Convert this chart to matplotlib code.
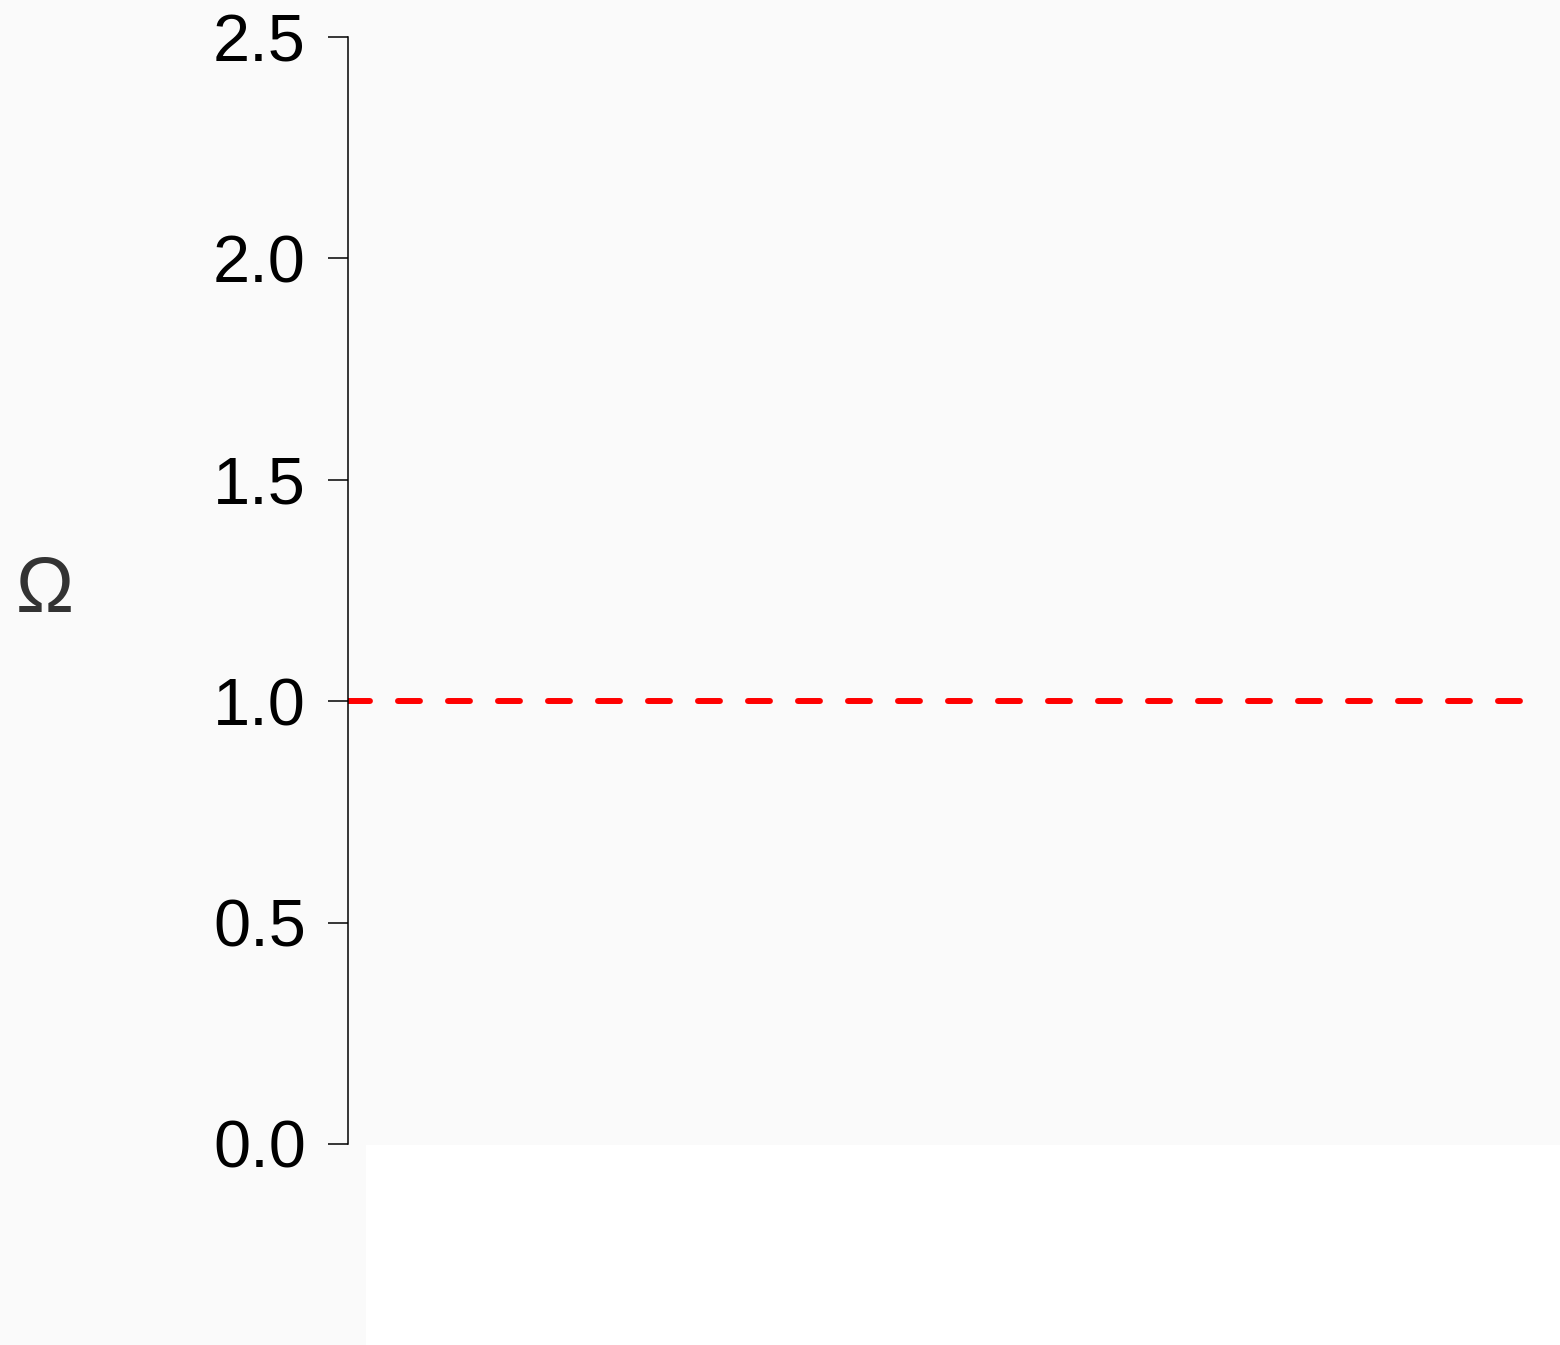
import matplotlib.pyplot as plt
from matplotlib.patches import Rectangle

plt.rcParams['font.family'] = ['Liberation Sans', 'DejaVu Sans']
plt.rcParams['lines.scale_dashes'] = False

# reference level and axis settings
ref_x = [0.0, 1.0]
ref_y = [1.0, 1.0]
y_ticks = [0.0, 0.5, 1.0, 1.5, 2.0, 2.5]
y_labels = ['0.0', '0.5', '1.0', '1.5', '2.0', '2.5']
y_title = 'Ω'

bg = '#fafafa'
fig = plt.figure(figsize=(15.6, 13.45), dpi=100, facecolor=bg)

# blank strip below the plot area
fig.patches.append(Rectangle((366 / 1560, 0), 1, 1 - 1145 / 1345,
                             transform=fig.transFigure, facecolor='white',
                             edgecolor='none', zorder=0))

ax = fig.add_axes([348 / 1560, 1 - 1144 / 1345, 1 - 348 / 1560, (1144 - 37) / 1345])
ax.set_facecolor(bg)

ax.plot(ref_x, ref_y, color='red', lw=4.3, dashes=(15.8, 20.2),
        dash_capstyle='round', solid_capstyle='round')

ax.set_xlim(0, 1 / 0.9695)
ax.set_ylim(0, 2.5)
ax.set_yticks(y_ticks)
ax.set_yticklabels(y_labels)
ax.set_xticks([])

for side in ['top', 'right', 'bottom']:
    ax.spines[side].set_visible(False)
ax.spines['left'].set_linewidth(1.1)
ax.tick_params(axis='y', length=14.4, width=1.1, pad=16, labelsize=48, colors='black')

fig.text(45 / 1560, 1 - 592 / 1345, y_title, fontsize=56, color='#333333',
         ha='center', va='center')

fig.savefig('out.png', dpi=100, facecolor=bg)
